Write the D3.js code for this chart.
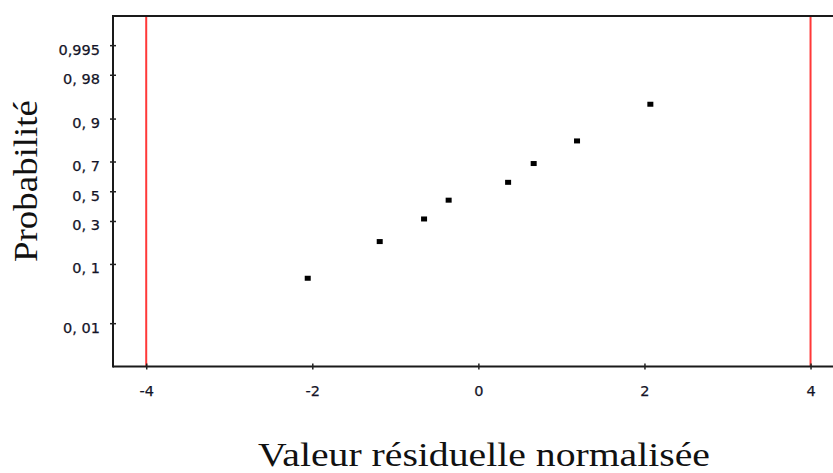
<!DOCTYPE html>
<html><head><meta charset="utf-8">
<script src="https://cdn.jsdelivr.net/npm/d3@7"></script>
<style>
html,body{margin:0;padding:0;background:#fff;overflow:hidden}
svg{display:block}
</style></head>
<body>
<script>
// ---- data ----
const residuals = [-2.055, -1.188, -0.654, -0.358, 0.358, 0.666, 1.188, 2.071];
const probabilities = [0.0625, 0.1875, 0.3125, 0.4375, 0.5625, 0.6875, 0.8125, 0.9375];
const yTickValues = [0.995, 0.98, 0.9, 0.7, 0.5, 0.3, 0.1, 0.01];
const yTickLabels = ["0,995", "0, 98", "0, 9", "0, 7", "0, 5", "0, 3", "0, 1", "0, 01"];
const xTickValues = [-4, -2, 0, 2, 4];
const xTickLabels = ["-4", "-2", "0", "2", "4"];
const limitLines = [-4, 4];

// inverse standard normal CDF (Acklam)
function probit(p){
  const a=[-3.969683028665376e+01,2.209460984245205e+02,-2.759285104469687e+02,1.383577518672690e+02,-3.066479806614716e+01,2.506628277459239e+00];
  const b=[-5.447609879822406e+01,1.615858368580409e+02,-1.556989798598866e+02,6.680131188771972e+01,-1.328068155288572e+01];
  const c=[-7.784894002430293e-03,-3.223964580411365e-01,-2.400758277161838e+00,-2.549732539343734e+00,4.374664141464968e+00,2.938163982698783e+00];
  const d=[7.784695709041462e-03,3.224671290700398e-01,2.445134137142996e+00,3.754408661907416e+00];
  const pl=0.02425, ph=1-pl;
  let q,r;
  if(p<pl){q=Math.sqrt(-2*Math.log(p));return (((((c[0]*q+c[1])*q+c[2])*q+c[3])*q+c[4])*q+c[5])/((((d[0]*q+d[1])*q+d[2])*q+d[3])*q+1);}
  if(p<=ph){q=p-0.5;r=q*q;return (((((a[0]*r+a[1])*r+a[2])*r+a[3])*r+a[4])*r+a[5])*q/(((((b[0]*r+b[1])*r+b[2])*r+b[3])*r+b[4])*r+1);}
  q=Math.sqrt(-2*Math.log(1-p));return -(((((c[0]*q+c[1])*q+c[2])*q+c[3])*q+c[4])*q+c[5])/((((d[0]*q+d[1])*q+d[2])*q+d[3])*q+1);
}

const W=833, H=473;
const mLeft=113, mTop=16, mBottom=366.5;
const svg=d3.select("body").append("svg").attr("width",W).attr("height",H);

const x=d3.scaleLinear().domain([-4.4,4.4]).range([mLeft, mLeft+8.8*83.04]);
const yz=d3.scaleLinear().domain([-3.09,3.09]).range([mBottom, mTop]);

// red limit lines
svg.append("g").selectAll("line").data(limitLines).join("line")
  .attr("x1",d=>x(d)).attr("x2",d=>x(d)).attr("y1",mTop).attr("y2",mBottom)
  .attr("stroke","#ff3838").attr("stroke-width",2);

// frame top
svg.append("line").attr("x1",mLeft).attr("x2",W+5).attr("y1",mTop).attr("y2",mTop)
  .attr("stroke","#1a1a1a").attr("stroke-width",2);

const tickFont = sel => sel.attr("font-family","DejaVu Sans").attr("font-size",14.5)
  .attr("fill","#141428").attr("stroke","#141428").attr("stroke-width",0.25);

// x axis
const xAxis=svg.append("g").attr("transform",`translate(0,${mBottom})`)
  .call(d3.axisBottom(x).tickValues(xTickValues).tickFormat((d,i)=>xTickLabels[i]).tickSizeInner(3).tickSizeOuter(0).tickPadding(16));
xAxis.select(".domain").attr("d",`M${mLeft},0H${W+5}`).attr("stroke","#1a1a1a").attr("stroke-width",2);
xAxis.selectAll(".tick line").attr("y1",-3).attr("y2",3).attr("stroke","#222").attr("stroke-width",1.5);
xAxis.selectAll(".tick text").call(tickFont);

// y axis
const yAxis=svg.append("g").attr("transform",`translate(${mLeft},0)`)
  .call(d3.axisLeft(yz).tickValues(yTickValues.map(probit)).tickFormat((d,i)=>yTickLabels[i]).tickSizeInner(3).tickSizeOuter(0).tickPadding(10));
yAxis.select(".domain").attr("d",`M0,${mTop-1}V${mBottom+1}`).attr("stroke","#1a1a1a").attr("stroke-width",2);
yAxis.selectAll(".tick line").attr("x1",-3).attr("x2",3).attr("stroke","#222").attr("stroke-width",1.5);
yAxis.selectAll(".tick text").call(tickFont).attr("dy","0.62em");

// points
svg.append("g").selectAll("rect").data(residuals).join("rect")
  .attr("x",(d)=>x(d)-3).attr("y",(d,i)=>yz(probit(probabilities[i]))-2.5)
  .attr("width",6).attr("height",5).attr("fill","#000");

// titles
svg.append("text").attr("x",484).attr("y",465.5).attr("text-anchor","middle")
  .attr("font-family","Liberation Serif").attr("font-size",34).attr("fill","#111")
  .attr("textLength",452).attr("lengthAdjust","spacingAndGlyphs")
  .text("Valeur résiduelle normalisée");
svg.append("text").attr("transform","translate(37,181) rotate(-90)").attr("text-anchor","middle")
  .attr("font-family","Liberation Serif").attr("font-size",33).attr("fill","#111")
  .attr("textLength",162).attr("lengthAdjust","spacingAndGlyphs")
  .text("Probabilité");
</script>
</body></html>
